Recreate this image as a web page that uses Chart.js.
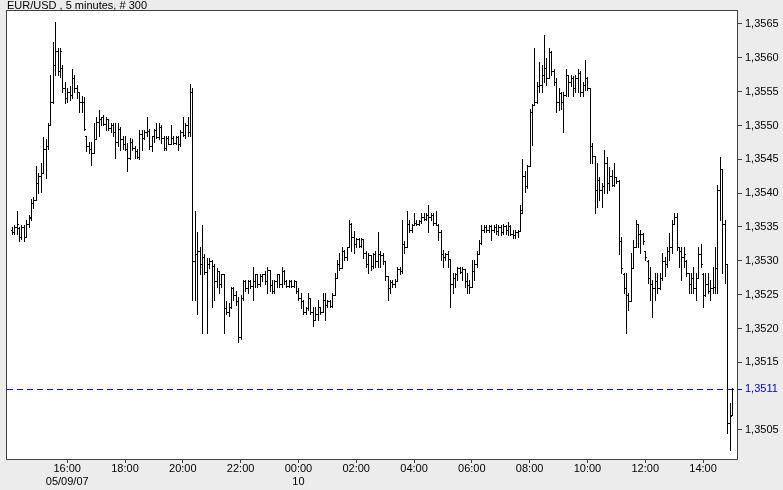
<!DOCTYPE html>
<html>
<head>
<meta charset="utf-8">
<title>EUR/USD 5 minutes</title>
<script src="https://cdn.jsdelivr.net/npm/chart.js@4.4.1/dist/chart.umd.min.js"></script>
<style>
  html, body { margin: 0; padding: 0; background: #ececec; overflow: hidden; }
  #wrap { width: 783px; height: 490px; }
</style>
</head>
<body>
<div id="wrap"><canvas id="eurusd"></canvas></div>
<script>
// EUR/USD, 5 minute bars, first bar 14:05 on 05/09/07
const startMinute = 14 * 60 + 5;
const barMinutes = 5;

const opens = [
  1.35345, 1.35343, 1.3535, 1.35348, 1.35335, 1.3535, 1.35335, 1.35355, 1.35365, 1.35385,
  1.3539, 1.35415, 1.35425, 1.3543, 1.35465, 1.3547, 1.355, 1.35535, 1.3559, 1.3561,
  1.3558, 1.35585, 1.35555, 1.3554, 1.3555, 1.35545, 1.3557, 1.35555, 1.3555, 1.35535,
  1.35535, 1.35485, 1.3547, 1.35465, 1.3546, 1.3548, 1.35505, 1.3551, 1.35512, 1.35502,
  1.3551, 1.35496, 1.355, 1.3549, 1.35475, 1.35495, 1.3548, 1.35472, 1.35465, 1.35452,
  1.35475, 1.35466, 1.35463, 1.35453, 1.35488, 1.35481, 1.3549, 1.35492, 1.3547, 1.35484,
  1.35493, 1.35483, 1.35498, 1.35482, 1.35467, 1.35482, 1.35473, 1.35482, 1.35474, 1.35483,
  1.35472, 1.3549, 1.35486, 1.355, 1.3549, 1.3555, 1.353, 1.3531, 1.35315, 1.35295,
  1.35305, 1.35283, 1.35295, 1.353, 1.35292, 1.3527, 1.35285, 1.35265, 1.3528, 1.3523,
  1.35225, 1.35232, 1.3526, 1.3525, 1.3524, 1.35188, 1.35245, 1.3527, 1.3526, 1.3527,
  1.35263, 1.3527, 1.3528, 1.35265, 1.35278, 1.3528, 1.3527, 1.35286, 1.35264, 1.35256,
  1.3527, 1.3528, 1.35265, 1.35285, 1.3527, 1.35263, 1.3527, 1.35263, 1.3527, 1.35255,
  1.35245, 1.3524, 1.35225, 1.3523, 1.35245, 1.35225, 1.35213, 1.35222, 1.35232, 1.35225,
  1.35242, 1.35235, 1.3524, 1.35233, 1.3525, 1.35275, 1.35295, 1.3529, 1.35315, 1.35305,
  1.3532, 1.35355, 1.35335, 1.35325, 1.35332, 1.35322, 1.35332, 1.35312, 1.35295, 1.35308,
  1.35292, 1.3531, 1.353, 1.3531, 1.35308, 1.353, 1.35278, 1.3526, 1.35268, 1.35265,
  1.3527, 1.35288, 1.35285, 1.35325, 1.3532, 1.35355, 1.35346, 1.35353, 1.35356, 1.35354,
  1.35359, 1.35365, 1.35362, 1.35368, 1.35365, 1.35368, 1.35356, 1.35353, 1.35343, 1.3531,
  1.35306, 1.3531, 1.35302, 1.35265, 1.35275, 1.3528, 1.3529, 1.35284, 1.35288, 1.3527,
  1.35264, 1.35262, 1.35285, 1.35295, 1.3531, 1.35326, 1.35346, 1.3535, 1.35345, 1.35352,
  1.35345, 1.3535, 1.35344, 1.3535, 1.35342, 1.35352, 1.35346, 1.35352, 1.3534, 1.35338,
  1.35342, 1.35344, 1.35375, 1.35425, 1.3541, 1.3544, 1.3552, 1.3553, 1.35535, 1.35558,
  1.3556, 1.35575, 1.35585, 1.3557, 1.35608, 1.3558, 1.35565, 1.35535, 1.35548, 1.35535,
  1.35545, 1.35575, 1.35565, 1.3557, 1.35555, 1.3557, 1.35578, 1.3555, 1.3556, 1.3557,
  1.35555, 1.3547, 1.35455, 1.35405, 1.3542, 1.35405, 1.3541, 1.35444, 1.35415, 1.35425,
  1.35412, 1.35424, 1.35418, 1.3533, 1.3528, 1.3526, 1.3525, 1.3524, 1.3529, 1.3532,
  1.35355, 1.3534, 1.3534, 1.35315, 1.353, 1.35275, 1.35265, 1.3526, 1.3527, 1.3526,
  1.35275, 1.353, 1.35295, 1.35315, 1.3532, 1.35355, 1.35365, 1.3532, 1.35315, 1.35305,
  1.353, 1.35282, 1.35265, 1.35275, 1.3526, 1.35275, 1.3531, 1.3528, 1.3525, 1.35265,
  1.35255, 1.3526, 1.35262, 1.3529, 1.35405, 1.35435, 1.35355, 1.35295, 1.3506, 1.35072
];

const highs = [
  1.3535, 1.35353, 1.35373, 1.3535, 1.35353, 1.35353, 1.3536, 1.35368, 1.35392, 1.35395,
  1.3544, 1.3543, 1.35445, 1.35483, 1.3548, 1.35503, 1.35575, 1.35623, 1.35653, 1.35615,
  1.35615, 1.3559, 1.35565, 1.35555, 1.35558, 1.35584, 1.35575, 1.3556, 1.3555, 1.35543,
  1.35542, 1.35485, 1.35475, 1.35476, 1.35503, 1.35513, 1.35523, 1.35513, 1.35515, 1.35512,
  1.3551, 1.35503, 1.35503, 1.35503, 1.35503, 1.35498, 1.35485, 1.35484, 1.35474, 1.35481,
  1.3548, 1.3547, 1.35465, 1.35493, 1.35493, 1.35493, 1.35513, 1.35495, 1.35485, 1.35495,
  1.35503, 1.35503, 1.355, 1.35484, 1.35484, 1.35484, 1.35501, 1.35484, 1.35484, 1.35484,
  1.35493, 1.35513, 1.35503, 1.35513, 1.35562, 1.35555, 1.35373, 1.35343, 1.3532, 1.35353,
  1.3531, 1.35304, 1.35304, 1.35301, 1.35295, 1.3529, 1.35285, 1.35281, 1.35281, 1.3524,
  1.35237, 1.35262, 1.35262, 1.35255, 1.35247, 1.3525, 1.35272, 1.35272, 1.35272, 1.35272,
  1.35291, 1.35281, 1.35281, 1.35281, 1.3528, 1.35285, 1.35291, 1.35286, 1.35272, 1.35272,
  1.35281, 1.35281, 1.35291, 1.35286, 1.35272, 1.35272, 1.35272, 1.35272, 1.3527, 1.3526,
  1.35252, 1.35242, 1.35232, 1.35252, 1.35245, 1.35232, 1.35232, 1.35242, 1.35232, 1.35252,
  1.35252, 1.35242, 1.35242, 1.35252, 1.35282, 1.35301, 1.35311, 1.35321, 1.35316, 1.35321,
  1.35361, 1.35356, 1.35344, 1.35333, 1.35333, 1.35333, 1.35332, 1.35314, 1.35311, 1.35309,
  1.35311, 1.35314, 1.35343, 1.35314, 1.35311, 1.353, 1.35278, 1.35272, 1.35272, 1.35273,
  1.35291, 1.35291, 1.3536, 1.3533, 1.35373, 1.3536, 1.35355, 1.3537, 1.3536, 1.3536,
  1.3537, 1.3537, 1.3537, 1.35383, 1.3537, 1.3537, 1.35373, 1.35355, 1.35345, 1.35316,
  1.35311, 1.35314, 1.35302, 1.35282, 1.35282, 1.35291, 1.35291, 1.35291, 1.35288, 1.35282,
  1.35272, 1.35301, 1.35301, 1.35314, 1.35331, 1.35353, 1.35353, 1.35353, 1.35353, 1.35353,
  1.35353, 1.35355, 1.35353, 1.35353, 1.35354, 1.35353, 1.35358, 1.35353, 1.35346, 1.35346,
  1.35346, 1.35383, 1.35451, 1.35432, 1.35442, 1.35525, 1.35532, 1.35614, 1.35565, 1.35594,
  1.3559, 1.35634, 1.35599, 1.35614, 1.3561, 1.35584, 1.3557, 1.35555, 1.3555, 1.3555,
  1.35584, 1.35575, 1.35575, 1.35573, 1.35575, 1.35584, 1.3558, 1.35565, 1.35597, 1.35572,
  1.35555, 1.35474, 1.35455, 1.35444, 1.35424, 1.35415, 1.35464, 1.35454, 1.35439, 1.35434,
  1.35444, 1.35424, 1.3542, 1.35335, 1.35282, 1.35282, 1.35252, 1.35311, 1.35331, 1.3536,
  1.35355, 1.35346, 1.35341, 1.35315, 1.35301, 1.35291, 1.35272, 1.35282, 1.35282, 1.35282,
  1.35311, 1.35305, 1.35321, 1.35341, 1.3536, 1.3537, 1.3537, 1.35321, 1.35321, 1.35321,
  1.35301, 1.35282, 1.35282, 1.35291, 1.35282, 1.35321, 1.35325, 1.35282, 1.35282, 1.35282,
  1.35272, 1.35291, 1.3532, 1.35412, 1.35453, 1.35435, 1.3536, 1.35295, 1.3509, 1.35112
];

const lows = [
  1.3534, 1.3534, 1.3534, 1.3533, 1.35332, 1.3533, 1.35335, 1.3535, 1.3536, 1.35378,
  1.3539, 1.354, 1.35402, 1.3543, 1.35422, 1.35465, 1.355, 1.35533, 1.35575, 1.35575,
  1.35572, 1.3555, 1.35533, 1.35535, 1.35538, 1.3554, 1.3555, 1.3554, 1.3552, 1.3552,
  1.35493, 1.35462, 1.3546, 1.35442, 1.3546, 1.3548, 1.35484, 1.355, 1.355, 1.35493,
  1.35493, 1.3549, 1.35485, 1.35452, 1.3547, 1.35464, 1.35465, 1.35464, 1.35432, 1.3545,
  1.35464, 1.35452, 1.35452, 1.3545, 1.35464, 1.3548, 1.35484, 1.35465, 1.35462, 1.35475,
  1.35481, 1.3548, 1.35474, 1.35464, 1.35464, 1.35472, 1.35472, 1.35472, 1.35472, 1.35464,
  1.3547, 1.35484, 1.35481, 1.35484, 1.35484, 1.35242, 1.35242, 1.35222, 1.3528, 1.35193,
  1.35281, 1.35193, 1.3529, 1.35232, 1.35242, 1.35262, 1.35252, 1.35262, 1.35193, 1.35222,
  1.35218, 1.3523, 1.35242, 1.35235, 1.3518, 1.35185, 1.35242, 1.35255, 1.35252, 1.3526,
  1.35242, 1.35262, 1.35262, 1.35263, 1.3527, 1.35265, 1.35252, 1.35255, 1.35252, 1.35252,
  1.35262, 1.35262, 1.35262, 1.35266, 1.35262, 1.35262, 1.35262, 1.35262, 1.35252, 1.35242,
  1.3523, 1.35222, 1.35222, 1.35227, 1.35222, 1.35203, 1.35213, 1.35213, 1.35222, 1.35225,
  1.35213, 1.35232, 1.35232, 1.35232, 1.3525, 1.35275, 1.35286, 1.3529, 1.35301, 1.35301,
  1.3532, 1.35314, 1.35311, 1.35321, 1.35321, 1.35321, 1.35304, 1.35291, 1.35282, 1.35286,
  1.3529, 1.35291, 1.35291, 1.35291, 1.35295, 1.35272, 1.35242, 1.35252, 1.35262, 1.35262,
  1.3527, 1.3528, 1.35282, 1.35311, 1.3532, 1.35343, 1.35343, 1.35353, 1.35353, 1.35353,
  1.35356, 1.3536, 1.3536, 1.35343, 1.3536, 1.35353, 1.35353, 1.35331, 1.35301, 1.35291,
  1.35301, 1.35291, 1.35232, 1.35252, 1.35262, 1.35272, 1.35282, 1.35272, 1.35262, 1.35252,
  1.35252, 1.35262, 1.35272, 1.35291, 1.3531, 1.35325, 1.35343, 1.35343, 1.35343, 1.35331,
  1.35343, 1.3534, 1.35338, 1.35338, 1.3534, 1.3534, 1.35338, 1.35338, 1.35333, 1.35333,
  1.35335, 1.35344, 1.3537, 1.35402, 1.35408, 1.3544, 1.35471, 1.3553, 1.35533, 1.3555,
  1.3555, 1.35565, 1.3556, 1.3557, 1.35575, 1.3556, 1.3552, 1.35523, 1.35525, 1.35491,
  1.35543, 1.35543, 1.35558, 1.35543, 1.3555, 1.3555, 1.35543, 1.35543, 1.35552, 1.35552,
  1.35444, 1.35444, 1.3537, 1.3538, 1.3539, 1.3538, 1.354, 1.354, 1.35405, 1.3541,
  1.3541, 1.35415, 1.3531, 1.35282, 1.35252, 1.35193, 1.35227, 1.3524, 1.3529, 1.3532,
  1.35321, 1.35311, 1.35325, 1.35301, 1.35267, 1.35242, 1.35217, 1.35242, 1.35252, 1.35259,
  1.35272, 1.35277, 1.35291, 1.35301, 1.35311, 1.35355, 1.35316, 1.35291, 1.35272, 1.35291,
  1.35277, 1.35252, 1.35252, 1.35252, 1.35242, 1.35275, 1.35291, 1.35232, 1.35248, 1.35252,
  1.35242, 1.35252, 1.35252, 1.35252, 1.3536, 1.35282, 1.35267, 1.35045, 1.3502, 1.35072
];

const closes = [
  1.35343, 1.3535, 1.35355, 1.35335, 1.3535, 1.35335, 1.35355, 1.35363, 1.35385, 1.3539,
  1.35415, 1.35425, 1.3543, 1.35465, 1.3547, 1.355, 1.35535, 1.3559, 1.3561, 1.3558,
  1.3561, 1.35555, 1.3554, 1.3555, 1.35545, 1.3557, 1.35555, 1.3555, 1.35535, 1.35535,
  1.35495, 1.3547, 1.35465, 1.3546, 1.3548, 1.35505, 1.3551, 1.35512, 1.35502, 1.3551,
  1.35496, 1.355, 1.3549, 1.35475, 1.35495, 1.3548, 1.35472, 1.35465, 1.35452, 1.35475,
  1.35466, 1.35463, 1.35453, 1.35488, 1.35481, 1.3549, 1.35492, 1.3547, 1.35484, 1.35493,
  1.35483, 1.35498, 1.35482, 1.35467, 1.35482, 1.35473, 1.35482, 1.35474, 1.35483, 1.35472,
  1.3549, 1.35486, 1.355, 1.3549, 1.3555, 1.353, 1.3531, 1.35315, 1.35295, 1.35305,
  1.35283, 1.35295, 1.353, 1.35292, 1.3527, 1.35285, 1.35265, 1.3528, 1.3523, 1.35225,
  1.35232, 1.3526, 1.3525, 1.3524, 1.35188, 1.35245, 1.3527, 1.3526, 1.3527, 1.35263,
  1.3527, 1.3528, 1.35265, 1.35278, 1.3528, 1.3527, 1.35286, 1.35264, 1.35256, 1.3527,
  1.3528, 1.35265, 1.35285, 1.3527, 1.35263, 1.3527, 1.35263, 1.3527, 1.35255, 1.35245,
  1.3524, 1.35225, 1.3523, 1.35245, 1.35225, 1.35213, 1.35222, 1.35232, 1.35225, 1.35242,
  1.35235, 1.3524, 1.35233, 1.3525, 1.35275, 1.35295, 1.3529, 1.35315, 1.35305, 1.3532,
  1.35355, 1.35335, 1.35325, 1.35332, 1.35322, 1.35332, 1.35312, 1.35295, 1.35308, 1.35292,
  1.3531, 1.353, 1.3531, 1.35308, 1.353, 1.35278, 1.3526, 1.35268, 1.35265, 1.3527,
  1.35288, 1.35285, 1.35325, 1.3532, 1.35355, 1.35346, 1.35353, 1.35356, 1.35354, 1.35359,
  1.35365, 1.35362, 1.35368, 1.35365, 1.35368, 1.35356, 1.35353, 1.35343, 1.3531, 1.35306,
  1.3531, 1.35302, 1.35265, 1.35275, 1.3528, 1.3529, 1.35284, 1.35288, 1.3527, 1.35264,
  1.35262, 1.35285, 1.35295, 1.3531, 1.35326, 1.35346, 1.3535, 1.35345, 1.35352, 1.35345,
  1.3535, 1.35344, 1.3535, 1.35342, 1.35352, 1.35346, 1.35352, 1.3534, 1.35338, 1.35342,
  1.35344, 1.3537, 1.35425, 1.3541, 1.3544, 1.3552, 1.3553, 1.35535, 1.35558, 1.3556,
  1.35575, 1.35585, 1.3557, 1.35608, 1.3558, 1.35565, 1.35535, 1.35548, 1.35535, 1.35545,
  1.35575, 1.35565, 1.3557, 1.35555, 1.3557, 1.35578, 1.3555, 1.3556, 1.3557, 1.35555,
  1.3547, 1.35455, 1.35405, 1.3542, 1.35405, 1.3541, 1.35444, 1.35415, 1.35425, 1.35412,
  1.35424, 1.35418, 1.3533, 1.3529, 1.3526, 1.3525, 1.3524, 1.3529, 1.3532, 1.35355,
  1.3534, 1.3534, 1.3533, 1.35305, 1.35275, 1.35265, 1.3526, 1.3527, 1.3526, 1.35275,
  1.353, 1.35295, 1.35315, 1.3532, 1.35355, 1.35365, 1.3532, 1.35315, 1.35305, 1.3531,
  1.35282, 1.35265, 1.35275, 1.3526, 1.35275, 1.3531, 1.35295, 1.3525, 1.35265, 1.35255,
  1.3526, 1.35262, 1.3529, 1.35405, 1.35435, 1.35355, 1.35295, 1.3506, 1.3507, 1.3511
];

// axis labels
const tickTimes = ['16:00', '18:00', '20:00', '22:00', '00:00', '02:00', '04:00', '06:00', '08:00', '10:00', '12:00', '14:00'];
const tickDates = { '16:00': '05/09/07', '00:00': '10' };
const priceTicks = [1.3505, 1.3511, 1.3515, 1.3520, 1.3525, 1.3530, 1.3535, 1.3540, 1.3545, 1.3550, 1.3555, 1.3560, 1.3565];
const bidPrice = 1.3511;

function pad(n) { return String(n).padStart(2, '0'); }
function barTime(i) {
    const m = (startMinute + barMinutes * i) % 1440;
    return pad(Math.floor(m / 60)) + ':' + pad(m % 60);
}

const timeTickBars = [];
for (let i = 0; i < closes.length; i++) {
    if (tickTimes.includes(barTime(i))) timeTickBars.push(i);
}

const frameColor = '#404040';
const bidColor = '#0000ff';
const bidTextColor = '#0000c0';

const ohlcBars = {
    id: 'ohlcBars',
    beforeDraw(chart) {
        const { ctx, chartArea: a } = chart;
        ctx.save();
        ctx.fillStyle = '#ececec';
        ctx.fillRect(0, 0, chart.width, chart.height);
        ctx.fillStyle = '#ffffff';
        ctx.fillRect(a.left, a.top, a.right - a.left, a.bottom - a.top);
        ctx.restore();
    },
    afterDatasetsDraw(chart) {
        const { ctx, chartArea: a, scales: { x, y } } = chart;
        ctx.save();
        ctx.beginPath();
        ctx.rect(a.left, a.top, a.right - a.left, a.bottom - a.top);
        ctx.clip();

        // bid line
        const yb = Math.round(y.getPixelForValue(bidPrice)) + 0.5;
        ctx.strokeStyle = bidColor;
        ctx.lineWidth = 1;
        ctx.setLineDash([6, 4]);
        ctx.beginPath();
        ctx.moveTo(a.left, yb);
        ctx.lineTo(a.right, yb);
        ctx.stroke();
        ctx.setLineDash([]);

        // bars: high-low line, open tick left, close tick right
        ctx.fillStyle = '#000000';
        for (let i = 0; i < closes.length; i++) {
            const px = Math.round(x.getPixelForValue(i));
            const yh = Math.round(y.getPixelForValue(highs[i]));
            const yl = Math.round(y.getPixelForValue(lows[i]));
            const yo = Math.round(y.getPixelForValue(opens[i]));
            const yc = Math.round(y.getPixelForValue(closes[i]));
            ctx.fillRect(px, yh, 1, yl - yh + 1);
            ctx.fillRect(px - 1, yo, 1, 1);
            ctx.fillRect(px + 1, yc, 1, 1);
        }
        ctx.restore();

        // frame
        ctx.save();
        ctx.strokeStyle = frameColor;
        ctx.lineWidth = 1;
        ctx.strokeRect(Math.round(a.left) - 0.5, Math.round(a.top) - 0.5,
            Math.round(a.right - a.left) + 1, Math.round(a.bottom - a.top) + 1);
        ctx.restore();
    }
};

Chart.defaults.font.family = "'Liberation Sans', Arial, sans-serif";
Chart.defaults.font.size = 11;
Chart.defaults.color = '#000000';

const ctx = document.getElementById('eurusd').getContext('2d');
const chart = new Chart(ctx, {
    type: 'line',
    data: {
        datasets: [{
            label: 'EUR/USD',
            data: closes.map((c, i) => ({ x: i, y: c })),
            showLine: false,
            pointRadius: 0,
            borderWidth: 0
        }]
    },
    options: {
        responsive: true,
        maintainAspectRatio: false,
        animation: false,
        events: [],
        layout: { padding: { left: 7, top: 0, right: 0, bottom: 0 } },
        plugins: {
            legend: { display: false },
            tooltip: { enabled: false },
            title: {
                display: true,
                text: 'EUR/USD , 5 minutes, # 300',
                align: 'start',
                color: '#000000',
                font: { size: 11, weight: 'normal', lineHeight: 1 },
                padding: 0
            }
        },
        scales: {
            x: {
                type: 'linear',
                min: -2,
                max: 301.1,
                afterBuildTicks: (scale) => { scale.ticks = timeTickBars.map(v => ({ value: v })); },
                afterFit: (scale) => { scale.height = 31; },
                grid: { drawOnChartArea: false, drawTicks: true, tickLength: 4, color: frameColor },
                border: { display: false },
                ticks: {
                    autoSkip: false,
                    maxRotation: 0,
                    padding: 0,
                    font: { size: 11, lineHeight: 1.15 },
                    callback: (value) => {
                        const t = barTime(value);
                        return tickDates[t] ? [t, tickDates[t]] : t;
                    }
                }
            },
            y: {
                type: 'linear',
                position: 'right',
                min: 1.350071,
                max: 1.356692,
                afterBuildTicks: (scale) => { scale.ticks = priceTicks.map(v => ({ value: v })); },
                afterFit: (scale) => { scale.width = 46; },
                grid: {
                    drawOnChartArea: false, drawTicks: true, tickLength: 5,
                    color: (c) => c.tick && c.tick.value === bidPrice ? bidColor : frameColor
                },
                border: { display: false },
                ticks: {
                    padding: 3,
                    color: (c) => c.tick && c.tick.value === bidPrice ? bidTextColor : '#000000',
                    callback: (v) => v.toFixed(4).replace('.', ',')
                }
            }
        }
    },
    plugins: [ohlcBars]
});
</script>
</body>
</html>
